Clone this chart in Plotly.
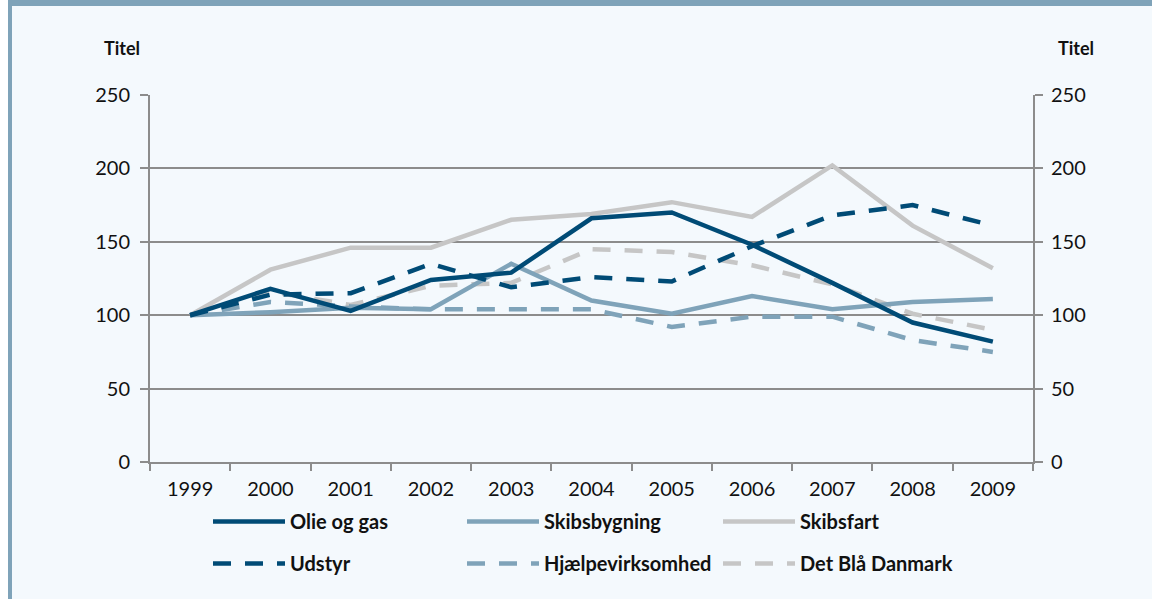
import plotly.graph_objects as go

years = ["1999", "2000", "2001", "2002", "2003", "2004", "2005", "2006", "2007", "2008", "2009"]
olie_og_gas = [100, 118, 103, 124, 129, 166, 170, 148, 122, 95, 82]
skibsbygning = [100, 102, 105, 104, 135, 110, 101, 113, 104, 109, 111]
skibsfart = [100, 131, 146, 146, 165, 169, 177, 167, 202, 161, 132]
udstyr = [100, 114, 115, 135, 119, 126, 123, 147, 168, 175, 161]
hjaelpevirksomhed = [100, 109, 106, 104, 104, 104, 92, 99, 99, 83, 75]
det_blaa_danmark = [100, 116, 107, 120, 122, 145, 143, 134, 121, 101, 90]

y_ticks = [0, 50, 100, 150, 200, 250]

NAVY = "#004B76"
BLUEGREY = "#7FA3B9"
LGREY = "#C6C6C6"
BG = "#F4F9FD"
GRID = "#8C8C8C"
FONT = "Lato"

series = [
    ("Olie og gas", olie_og_gas, NAVY, "solid", "legend", "g1"),
    ("Udstyr", udstyr, NAVY, "18px,14px", "legend", "g2"),
    ("Skibsbygning", skibsbygning, BLUEGREY, "solid", "legend2", "g3"),
    ("Hjælpevirksomhed", hjaelpevirksomhed, BLUEGREY, "18px,14px", "legend2", "g4"),
    ("Skibsfart", skibsfart, LGREY, "solid", "legend3", "g5"),
    ("Det Blå Danmark", det_blaa_danmark, LGREY, "18px,14px", "legend3", "g6"),
]

fig = go.Figure()
order = [4, 5, 2, 3, 1, 0]
for i in order:
    name, vals, col, dash, leg, grp = series[i]
    fig.add_trace(go.Scatter(
        x=years, y=vals, name=name, mode="lines",
        line=dict(color=col, width=4.5, dash=dash),
        legend=leg, legendgroup=grp, legendrank=i,
    ))

fig.add_trace(go.Scatter(x=years, y=[None] * len(years), yaxis="y2",
                         showlegend=False, hoverinfo="skip"))

W, H = 1152, 599
ml, mr, mt, mb = 150, 119, 95, 137
pw = W - ml - mr
ph = H - mt - mb

def px(x):
    return (x - ml) / pw

def py(y):
    return (H - mb - y) / ph

legend_common = dict(
    orientation="v", bgcolor="rgba(0,0,0,0)", borderwidth=0,
    font=dict(family=FONT, size=20, color="#111111", weight="bold"),
    itemwidth=72, tracegroupgap=13, traceorder="grouped",
    xanchor="left", yanchor="top", y=py(502),
)

fig.update_layout(
    width=W, height=H,
    margin=dict(l=ml, r=mr, t=mt, b=mb, pad=0),
    paper_bgcolor=BG, plot_bgcolor=BG,
    font=dict(family=FONT, size=20, color="#111111"),
    showlegend=True,
    legend=dict(legend_common, x=px(208)),
    legend2=dict(legend_common, x=px(462)),
    legend3=dict(legend_common, x=px(718)),
    xaxis=dict(
        type="category", tickson="boundaries", ticks="outside", ticklen=7,
        tickwidth=2, tickcolor=GRID, showline=True, linecolor=GRID, linewidth=2,
        showgrid=False, zeroline=False, tickfont=dict(size=20),
        range=[-0.5, 10.5], ticklabelstandoff=8,
    ),
    yaxis=dict(
        range=[0, 250], tickvals=y_ticks, ticks="outside", ticklen=8,
        tickwidth=2, tickcolor=GRID, showline=True, linecolor=GRID, linewidth=2,
        showgrid=True, gridcolor=GRID, gridwidth=2, zeroline=False,
        tickfont=dict(size=20), ticklabelstandoff=6,
    ),
    yaxis2=dict(
        range=[0, 250], tickvals=y_ticks, overlaying="y", side="right",
        ticks="outside", ticklen=8, tickwidth=2, tickcolor=GRID,
        showline=True, linecolor=GRID, linewidth=2, showgrid=False,
        zeroline=False, tickfont=dict(size=20), ticklabelstandoff=4,
    ),
    annotations=[
        dict(text="<b>Titel</b>", xref="paper", yref="paper", x=px(122), y=py(48),
             xanchor="center", yanchor="middle", showarrow=False,
             font=dict(family=FONT, size=18, color="#111111")),
        dict(text="<b>Titel</b>", xref="paper", yref="paper", x=px(1076), y=py(48),
             xanchor="center", yanchor="middle", showarrow=False,
             font=dict(family=FONT, size=18, color="#111111")),
    ],
    shapes=[
        dict(type="rect", xref="paper", yref="paper", x0=px(-5), x1=px(8),
             y0=py(H + 5), y1=py(-5), fillcolor="white", line=dict(width=0), layer="below"),
        dict(type="rect", xref="paper", yref="paper", x0=px(8), x1=px(W + 5),
             y0=py(6), y1=py(-5), fillcolor=BLUEGREY, line=dict(width=0), layer="below"),
        dict(type="rect", xref="paper", yref="paper", x0=px(8), x1=px(12),
             y0=py(H + 5), y1=py(0), fillcolor=BLUEGREY, line=dict(width=0), layer="below"),
    ],
)

fig.write_html("out.html", config={"displayModeBar": False},
               post_script="document.body.style.margin='0';")
